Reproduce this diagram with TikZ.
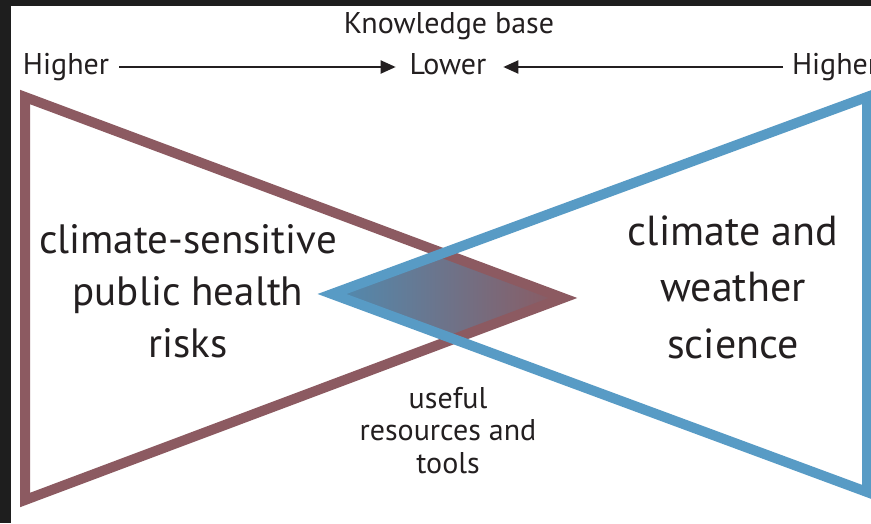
\documentclass[tikz,border=0pt]{standalone}
\usepackage{fontspec}
\setmainfont{PT Sans}
\usetikzlibrary{arrows.meta}
\definecolor{bgdark}{HTML}{1E1E1E}
\definecolor{maroon}{RGB}{140,90,97}
\definecolor{skyblue}{RGB}{88,155,197}
\definecolor{txt}{HTML}{231F20}
\tikzset{
  lbl/.style={inner sep=0pt, outer sep=0pt, text=txt, font=\fontsize{30}{33}\selectfont},
  big/.style={inner sep=0pt, outer sep=0pt, text=txt, align=center},
  arr/.style={line width=2pt, draw=txt, -{Triangle[length=15pt,width=13pt]}},
  tri/.style={line width=10pt, line join=miter, miter limit=10},
}
\begin{document}
\begin{tikzpicture}[x=1pt,y=-1pt]
\useasboundingbox (0,0) rectangle (871,523);
\fill[bgdark] (0,0) rectangle (871,523);
\fill[white] (11,6) rectangle (871,523);
% intersection shading
\begin{scope}
  \clip (25,97) -- (563,298) -- (25,500) -- cycle;
  \clip (867,97) -- (332,294) -- (867,492) -- cycle;
  \shade[left color=skyblue!90!black, right color=maroon] (332,240) rectangle (563,350);
\end{scope}
% triangles
\draw[tri, maroon] (25,97) -- (563,298) -- (25,500) -- cycle;
\draw[tri, skyblue] (867,97) -- (332,294) -- (867,492) -- cycle;
% top labels
\node[lbl, anchor=base] (kb) at (449,33) {Knowledge base};
\node[lbl, anchor=base west] (hl) at (23,74) {Higher};
\node[lbl, anchor=base] (lw) at (448,74) {Lower};
\node[lbl, anchor=base west] (hr) at (792,74) {Higher};
\draw[arr] ([xshift=10pt,yshift=7pt]hl.base east) -- ([xshift=-14pt,yshift=7pt]lw.base west);
\draw[arr] ([xshift=-9pt,yshift=7pt]hr.base west) -- ([xshift=17pt,yshift=7pt]lw.base east);
% big labels
\node[big, anchor=base, font=\fontsize{41}{52}\selectfont] (risk) at (188,357)
  {climate-sensitive\\public health\\risks};
\node[big, anchor=base, font=\fontsize{42}{56.5}\selectfont] (sci) at (733,358)
  {climate and\\weather\\science};
\node[big, anchor=base, font=\fontsize{30}{32.5}\selectfont] (tools) at (448,473)
  {useful\\resources and\\tools};
\end{tikzpicture}
\end{document}
